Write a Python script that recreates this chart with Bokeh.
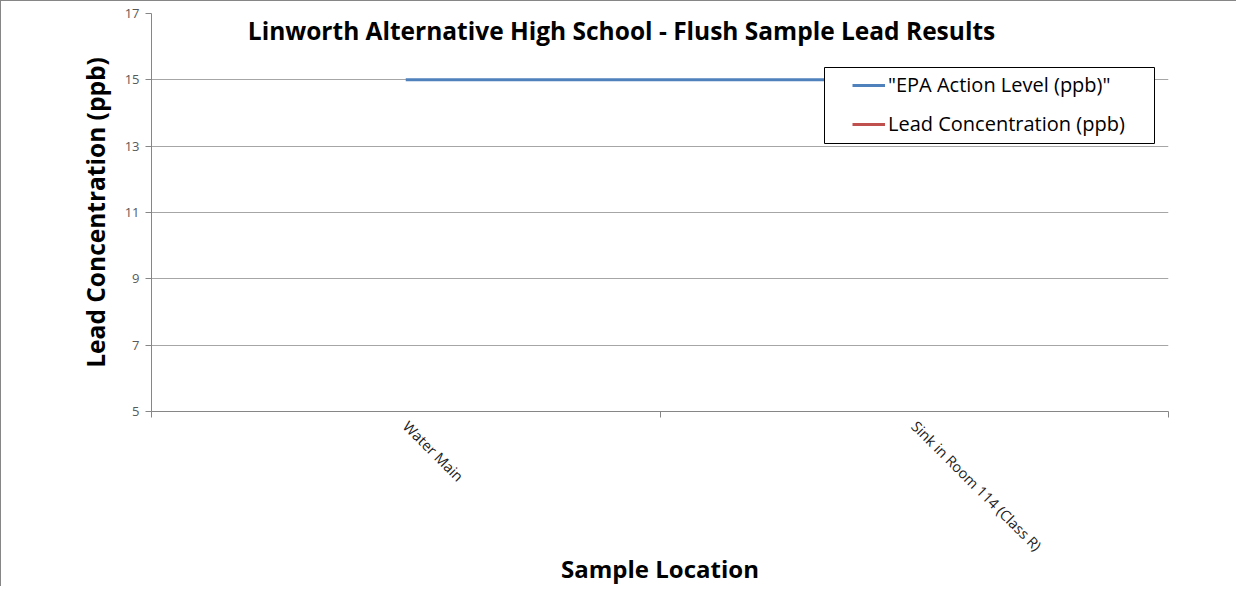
from bokeh.plotting import figure
from bokeh.models import (FixedTicker, Legend, LegendItem, Label, ColumnDataSource, Range1d,
                          BoxAnnotation)
from bokeh.embed import file_html
from bokeh.resources import INLINE

title_text = "Linworth Alternative High School - Flush Sample Lead Results"
x_title = "Sample Location"
y_title = "Lead Concentration (ppb)"
categories = ["Water Main", "Sink in Room 114 (Class R)"]
epa_level = [15, 15]
lead_conc = [1, 1]
y_ticks = [5, 7, 9, 11, 13, 15, 17]

x_pos = [i + 0.5 for i in range(len(categories))]
src = ColumnDataSource(dict(x=x_pos, epa=epa_level, lead=lead_conc))

FONT = "Open Sans"

p = figure(width=1236, height=586, output_backend="svg", toolbar_location=None,
           x_range=Range1d(0, len(categories)), y_range=Range1d(5, 17),
           min_border_left=150, min_border_right=69, min_border_top=12, min_border_bottom=175)
p.styles = {"border-top": "1px solid #868686", "border-left": "1px solid #868686"}
p.outline_line_color = None
p.background_fill_color = "white"
p.border_fill_color = "white"

r_epa = p.line("x", "epa", source=src, line_color="#4f81bd", line_width=3)
r_lead = p.line("x", "lead", source=src, line_color="#c0504d", line_width=3)

# axes
p.yaxis.ticker = FixedTicker(ticks=y_ticks)
p.yaxis.minor_tick_line_color = None
p.yaxis.major_tick_out = 6
p.yaxis.major_tick_in = 0
p.yaxis.axis_line_color = "#868686"
p.yaxis.major_tick_line_color = "#868686"
p.yaxis.major_label_text_font = FONT
p.yaxis.major_label_text_font_size = "13px"
p.yaxis.major_label_text_color = "#595959"
p.yaxis.major_label_standoff = 6
p.yaxis.axis_label = y_title
p.yaxis.axis_label_text_font = FONT
p.yaxis.axis_label_text_font_size = "24.5px"
p.yaxis.axis_label_text_font_style = "bold"
p.yaxis.axis_label_text_color = "black"
p.yaxis.axis_label_standoff = 10

p.xaxis.ticker = FixedTicker(ticks=x_pos, minor_ticks=list(range(len(categories) + 1)))
p.xaxis.major_label_overrides = {x: c for x, c in zip(x_pos, categories)}
p.xaxis.major_tick_line_color = None
p.xaxis.minor_tick_out = 6
p.xaxis.minor_tick_in = 0
p.xaxis.minor_tick_line_color = "#868686"
p.xaxis.axis_line_color = "#868686"
p.xaxis.major_label_orientation = -0.785398
p.xaxis.major_label_text_font = FONT
p.xaxis.major_label_text_font_size = "14.5px"
p.xaxis.major_label_text_color = "#222222"
p.xaxis.major_label_standoff = 6
p.xaxis.axis_label = x_title
p.xaxis.axis_label_text_font = FONT
p.xaxis.axis_label_text_font_size = "24px"
p.xaxis.axis_label_text_font_style = "bold"
p.xaxis.axis_label_text_color = "black"
p.xaxis.axis_label_standoff = -13

p.xgrid.grid_line_color = None
p.ygrid.ticker = FixedTicker(ticks=y_ticks)
p.ygrid.grid_line_color = "#a6a6a6"

# chart title inside plot area
p.add_layout(Label(x=470, y=381, x_units="screen", y_units="screen", text=title_text,
                   text_align="center", text_baseline="middle", text_font=FONT,
                   text_font_size="24.5px", text_font_style="bold", text_color="black"))

# legend box
p.add_layout(BoxAnnotation(left=673, right=1003, bottom=268, top=344,
                           left_units="screen", right_units="screen",
                           bottom_units="screen", top_units="screen",
                           fill_color="white", fill_alpha=1.0,
                           line_color="black", line_width=1, line_alpha=1.0))

legend = Legend(items=[LegendItem(label='"EPA Action Level (ppb)"', renderers=[r_epa]),
                       LegendItem(label="Lead Concentration (ppb)", renderers=[r_lead])],
                location=(701, 274))
legend.border_line_color = None
legend.background_fill_alpha = 0
legend.padding = 7
legend.spacing = 12
legend.glyph_width = 33
legend.label_standoff = 3
legend.label_text_font = FONT
legend.label_text_font_size = "20px"
legend.label_text_color = "black"
legend.margin = 0
p.add_layout(legend, "center")

open("out.html", "w").write(file_html(p, INLINE))
